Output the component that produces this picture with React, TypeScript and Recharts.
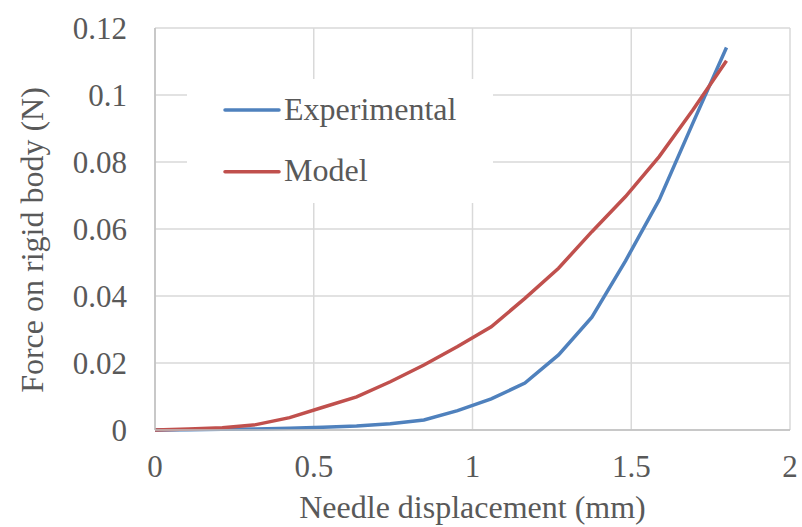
import { LineChart, Line, XAxis, YAxis, CartesianGrid, Label } from "recharts";

const displacement = [0, 0.106, 0.212, 0.318, 0.424, 0.529, 0.635, 0.741, 0.847, 0.953, 1.059, 1.165, 1.271, 1.376, 1.482, 1.588, 1.694, 1.8];
const experimental = [0, 0.0001, 0.0002, 0.0003, 0.0005, 0.0008, 0.0012, 0.0019, 0.003, 0.0058, 0.0093, 0.014, 0.0224, 0.0337, 0.0505, 0.0687, 0.0916, 0.1142];
const model = [0, 0.0003, 0.0007, 0.0016, 0.0037, 0.0068, 0.0099, 0.0144, 0.0194, 0.0249, 0.0308, 0.0393, 0.0483, 0.0592, 0.0697, 0.0816, 0.0955, 0.1102];

const xTicks = [0, 0.5, 1, 1.5, 2];
const yTicks = [0, 0.02, 0.04, 0.06, 0.08, 0.1, 0.12];

const data = displacement.map((x, i) => ({ x, experimental: experimental[i], model: model[i] }));

const FONT = '"Liberation Serif", "Times New Roman", serif';
const TEXT = "#595959";
const BLUE = "#4F81BD";
const RED = "#C0504D";

// legend sits inside the plot with a white box over the grid
const LegendBox = () => (
  <svg
    width={306}
    height={124}
    style={{ position: "absolute", left: 187, top: 79, display: "block", background: "#fff" }}
  >
    <line x1={38} x2={92} y1={31} y2={31} stroke={BLUE} strokeWidth={3.5} strokeLinecap="round" />
    <text x={97} y={41} fontFamily={FONT} fontSize={32} fill={TEXT}>Experimental</text>
    <line x1={38} x2={92} y1={92.7} y2={92.7} stroke={RED} strokeWidth={3.5} strokeLinecap="round" />
    <text x={97} y={101.7} fontFamily={FONT} fontSize={32} fill={TEXT}>Model</text>
  </svg>
);

export default function App() {
  return (
    <div style={{ position: "absolute", left: 0, top: 0, width: 802, height: 527, background: "#fff", fontFamily: FONT }}>
      <LineChart width={802} height={527} data={data} margin={{ top: 28, right: 12, left: 0, bottom: 0 }}>
        <CartesianGrid stroke="#D9D9D9" strokeWidth={1.5} />
        <XAxis
          dataKey="x"
          type="number"
          domain={[0, 2]}
          ticks={xTicks}
          height={97}
          stroke="#BFBFBF"
          strokeWidth={1.5}
          tickLine={false}
          tickSize={0}
          tickMargin={25}
          tick={{ fill: TEXT, fontFamily: FONT, fontSize: 31 }}
        >
          <Label
            value="Needle displacement (mm)"
            position="insideBottom"
            offset={9}
            style={{ fill: TEXT, fontFamily: FONT, fontSize: 32 }}
          />
        </XAxis>
        <YAxis
          type="number"
          domain={[0, 0.12]}
          ticks={yTicks}
          width={155}
          stroke="#BFBFBF"
          strokeWidth={1.5}
          tickLine={false}
          tickSize={0}
          tickMargin={28}
          tick={{ fill: TEXT, fontFamily: FONT, fontSize: 31 }}
        >
          <Label
            content={() => (
              <text
                x={43}
                y={240}
                transform="rotate(-90 43 240)"
                textAnchor="middle"
                fill={TEXT}
                fontFamily={FONT}
                fontSize={32}
              >
                Force on rigid body (N)
              </text>
            )}
          />
        </YAxis>
        <Line
          type="linear"
          dataKey="experimental"
          stroke={BLUE}
          strokeWidth={3.5}
          dot={false}
          isAnimationActive={false}
        />
        <Line
          type="linear"
          dataKey="model"
          stroke={RED}
          strokeWidth={3.5}
          dot={false}
          isAnimationActive={false}
        />
      </LineChart>
      <LegendBox />
    </div>
  );
}
